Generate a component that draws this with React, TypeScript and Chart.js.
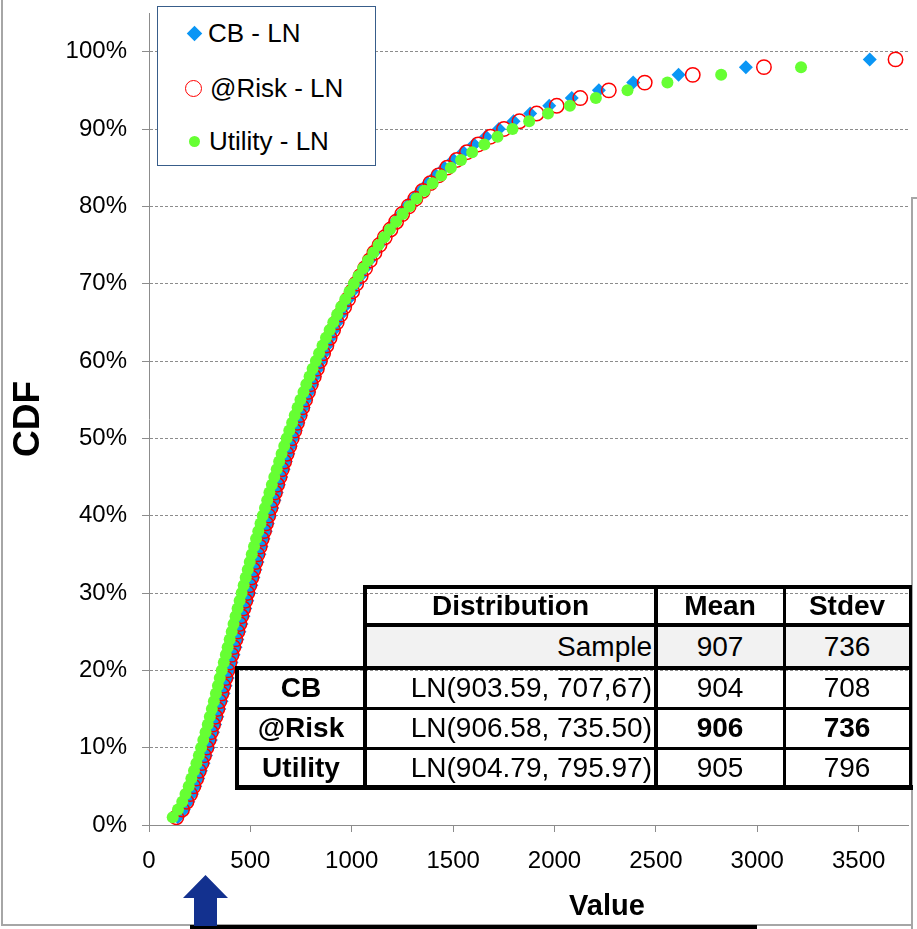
import React, { useEffect, useRef } from 'react';
import { Chart, registerables } from 'chart.js';

Chart.register(...registerables);

// ---------- DATA ----------
const cdfPercent = [
  1, 2, 3, 4, 5, 6, 7, 8, 9, 10, 11, 12, 13, 14, 15, 16, 17, 18, 19, 20,
  21, 22, 23, 24, 25, 26, 27, 28, 29, 30, 31, 32, 33, 34, 35, 36, 37, 38, 39, 40,
  41, 42, 43, 44, 45, 46, 47, 48, 49, 50, 51, 52, 53, 54, 55, 56, 57, 58, 59, 60,
  61, 62, 63, 64, 65, 66, 67, 68, 69, 70, 71, 72, 73, 74, 75, 76, 77, 78, 79, 80,
  81, 82, 83, 84, 85, 86, 87, 88, 89, 90, 91, 92, 93, 94, 95, 96, 97, 98, 99,
];

const cbValues = [
  142, 172, 194, 212, 228, 243, 256, 269, 281, 293, 305, 316, 326, 337, 347, 358, 368, 378, 388, 397,
  407, 417, 427, 436, 446, 456, 466, 475, 485, 495, 505, 515, 525, 535, 545, 555, 565, 576, 586, 597,
  608, 619, 630, 641, 652, 664, 675, 687, 699, 711, 724, 737, 749, 763, 776, 790, 804, 818, 833, 848,
  863, 879, 895, 912, 929, 946, 964, 983, 1003, 1022, 1043, 1065, 1087, 1110, 1134, 1160, 1186, 1214, 1243, 1273,
  1306, 1340, 1376, 1415, 1457, 1502, 1550, 1603, 1662, 1726, 1798, 1880, 1974, 2085, 2219, 2388, 2612, 2944, 3555,
];

const riskValues = [
  135, 163, 185, 203, 219, 233, 246, 259, 271, 283, 294, 305, 316, 327, 337, 347, 357, 367, 377, 387,
  397, 407, 416, 426, 436, 446, 455, 465, 475, 485, 495, 505, 515, 525, 535, 546, 556, 567, 577, 588,
  599, 610, 621, 632, 644, 655, 667, 679, 692, 704, 717, 730, 743, 756, 770, 784, 798, 813, 828, 843,
  859, 875, 891, 908, 926, 944, 963, 982, 1002, 1022, 1044, 1066, 1089, 1112, 1137, 1163, 1191, 1219, 1249, 1281,
  1314, 1350, 1388, 1428, 1471, 1518, 1568, 1624, 1684, 1751, 1827, 1912, 2011, 2127, 2268, 2445, 2682, 3033, 3682,
];

const utilityValues = [
  117, 143, 164, 180, 196, 209, 222, 234, 246, 257, 268, 279, 290, 300, 310, 320, 330, 340, 349, 359,
  369, 379, 388, 398, 408, 417, 427, 437, 447, 457, 467, 477, 487, 497, 507, 518, 528, 539, 550, 561,
  572, 583, 594, 606, 618, 630, 642, 654, 667, 679, 692, 706, 719, 733, 747, 762, 776, 792, 807, 823,
  839, 856, 873, 891, 909, 928, 948, 968, 989, 1010, 1033, 1056, 1080, 1106, 1132, 1160, 1188, 1219, 1251, 1285,
  1320, 1359, 1399, 1442, 1489, 1539, 1594, 1654, 1719, 1793, 1875, 1968, 2076, 2204, 2360, 2557, 2822, 3216, 3953,
];

const seriesNames = ['CB - LN', '@Risk - LN', 'Utility - LN'];
const xTickValues = [0, 500, 1000, 1500, 2000, 2500, 3000, 3500];
const yTickValues = [0, 10, 20, 30, 40, 50, 60, 70, 80, 90, 100];

const tableHeader = ['', 'Distribution', 'Mean', 'Stdev'];
const tableRowLabels = ['', 'CB', '@Risk', 'Utility'];
const tableDistributions = ['Sample', 'LN(903.59, 707,67)', 'LN(906.58, 735.50)', 'LN(904.79, 795.97)'];
const tableMeans = ['907', '904', '906', '905'];
const tableStdevs = ['736', '708', '736', '796'];

// ---------- STYLE ----------
const FONT = "'Liberation Sans', Arial, Helvetica, sans-serif";
const BLUE = '#0A96F5';
const RED = '#FF0000';
const GREEN = '#66FF33';
const GRID = '#8C8C8C';

const toPoints = (vals: number[]) => vals.map((v, i) => ({ x: v, y: cdfPercent[i] }));

const colX = [237, 365, 656, 784, 910];
const rowY = [587, 625, 668, 708, 748, 787];

function HLine({ x1, x2, y, w }: { x1: number; x2: number; y: number; w: number }) {
  return <div style={{ position: 'absolute', left: x1 - w / 2, top: y - w / 2, width: x2 - x1 + w, height: w, background: '#000' }} />;
}
function VLine({ y1, y2, x, w }: { y1: number; y2: number; x: number; w: number }) {
  return <div style={{ position: 'absolute', left: x - w / 2, top: y1 - w / 2, width: w, height: y2 - y1 + w, background: '#000' }} />;
}

function Cell({ r, c, text, bold, align, bg }: { r: number; c: number; text: string; bold?: boolean; align?: string; bg?: string }) {
  return (
    <div
      style={{
        position: 'absolute',
        left: colX[c],
        top: rowY[r],
        width: colX[c + 1] - colX[c],
        height: rowY[r + 1] - rowY[r],
        display: 'flex',
        alignItems: 'center',
        justifyContent: align === 'right' ? 'flex-end' : 'center',
        paddingRight: align === 'right' ? 4 : 0,
        boxSizing: 'border-box',
        background: bg || 'transparent',
        fontFamily: FONT,
        fontSize: 28,
        fontWeight: bold ? 'bold' : 'normal',
        color: '#000',
        whiteSpace: 'nowrap',
      }}
    >
      {text}
    </div>
  );
}

const zeroPadding = (s: any) => {
  s.paddingTop = 0;
  s.paddingBottom = 0;
  s.paddingLeft = 0;
  s.paddingRight = 0;
};

export default function App() {
  const canvasRef = useRef<HTMLCanvasElement | null>(null);

  useEffect(() => {
    const canvas = canvasRef.current;
    if (!canvas) return;
    Chart.defaults.font.family = FONT;
    const chart = new Chart(canvas, {
      type: 'scatter',
      data: {
        datasets: [
          {
            label: seriesNames[0],
            data: toPoints(cbValues),
            pointStyle: 'rectRot',
            pointRadius: 7,
            backgroundColor: BLUE,
            borderColor: BLUE,
            borderWidth: 0,
            order: 3,
          },
          {
            label: seriesNames[1],
            data: toPoints(riskValues),
            pointStyle: 'circle',
            pointRadius: 7.2,
            backgroundColor: 'rgba(0,0,0,0)',
            borderColor: RED,
            borderWidth: 1.5,
            order: 2,
          },
          {
            label: seriesNames[2],
            data: toPoints(utilityValues),
            pointStyle: 'circle',
            pointRadius: 6,
            backgroundColor: GREEN,
            borderColor: GREEN,
            borderWidth: 0,
            order: 1,
          },
        ],
      },
      options: {
        animation: false,
        responsive: false,
        maintainAspectRatio: false,
        devicePixelRatio: 1,
        layout: { padding: { left: 0, right: 0, top: 13, bottom: 0 } },
        plugins: { legend: { display: false }, tooltip: { enabled: false }, title: { display: false } },
        scales: {
          x: {
            type: 'linear',
            min: 0,
            max: 3745,
            afterBuildTicks: (s: any) => {
              s.ticks = xTickValues.map((v) => ({ value: v }));
            },
            afterFit: (s: any) => {
              s.height = 104;
              zeroPadding(s);
            },
            grid: { display: true, drawOnChartArea: false, drawTicks: true, tickLength: 7, color: GRID, tickColor: GRID },
            border: { display: true, color: GRID, width: 1 },
            ticks: {
              font: { size: 24, family: FONT },
              color: '#000',
              padding: 15,
              maxRotation: 0,
              autoSkip: false,
              callback: (v: any) => String(v),
            },
          },
          y: {
            type: 'linear',
            min: 0,
            max: 105,
            afterBuildTicks: (s: any) => {
              s.ticks = yTickValues.map((v) => ({ value: v }));
            },
            afterFit: (s: any) => {
              s.width = 149;
              zeroPadding(s);
            },
            grid: { display: true, drawOnChartArea: true, drawTicks: true, tickLength: 7, color: GRID, tickColor: GRID },
            border: { display: true, color: GRID, width: 1, dash: [3, 2] },
            ticks: {
              font: { size: 24, family: FONT },
              color: '#000',
              padding: 15,
              autoSkip: false,
              callback: (v: any) => v + '%',
            },
            title: {
              display: true,
              text: 'CDF',
              color: '#000',
              font: { size: 37, weight: 'bold', family: FONT },
              padding: { top: 7, bottom: 0 },
            },
          },
        },
      },
    } as any);
    return () => chart.destroy();
  }, []);

  const legendRow = (marker: React.ReactNode, text: string, cy: number, tx: number) => (
    <div style={{ position: 'absolute', left: 0, top: cy - 20, width: 219, height: 40 }}>
      {marker}
      <div
        style={{
          position: 'absolute',
          left: tx,
          top: 0,
          height: 40,
          lineHeight: '40px',
          fontFamily: FONT,
          fontSize: 26,
          color: '#000',
          whiteSpace: 'nowrap',
        }}
      >
        {text}
      </div>
    </div>
  );

  return (
    <div style={{ position: 'fixed', left: 0, top: 0, width: 917, height: 929, overflow: 'hidden', background: '#fff' }}>
      <canvas ref={canvasRef} width={917} height={929} style={{ position: 'absolute', left: 0, top: 0, width: 917, height: 929 }} />

      {/* frame lines */}
      <div style={{ position: 'absolute', left: 1, top: 0, width: 2, height: 926, background: '#A6A6A6' }} />
      <div style={{ position: 'absolute', left: 1, top: 924, width: 916, height: 2, background: '#A6A6A6' }} />
      <div style={{ position: 'absolute', left: 911, top: 197, width: 20, height: 740, background: '#fff', borderLeft: '2px solid #A6A6A6', borderTop: '2px solid #A6A6A6' }} />

      {/* legend */}
      <div style={{ position: 'absolute', left: 157, top: 6, width: 217, height: 158, border: '1.5px solid #385D8A', background: '#fff' }}>
        {legendRow(
          <div style={{ position: 'absolute', left: 30.5, top: 14.5, width: 11, height: 11, background: BLUE, transform: 'rotate(45deg)' }} />,
          seriesNames[0], 26, 50,
        )}
        {legendRow(
          <div style={{ position: 'absolute', left: 27, top: 12, width: 17, height: 17, borderRadius: '50%', border: '1.5px solid ' + RED, boxSizing: 'border-box' }} />,
          seriesNames[1], 81, 52,
        )}
        {legendRow(
          <div style={{ position: 'absolute', left: 30.5, top: 14.5, width: 11, height: 11, borderRadius: '50%', background: GREEN }} />,
          seriesNames[2], 134, 51,
        )}
      </div>

      {/* table */}
      <div style={{ position: 'absolute', left: 0, top: 0, width: 917, height: 929, pointerEvents: 'none' }}>
        <Cell r={0} c={1} text={tableHeader[1]} bold />
        <Cell r={0} c={2} text={tableHeader[2]} bold />
        <Cell r={0} c={3} text={tableHeader[3]} bold />
        {[0, 1, 2, 3].map((i) => (
          <React.Fragment key={i}>
            {i > 0 && <Cell r={i + 1} c={0} text={tableRowLabels[i]} bold />}
            <Cell r={i + 1} c={1} text={tableDistributions[i]} align="right" bg={i === 0 ? '#F2F2F2' : undefined} />
            <Cell r={i + 1} c={2} text={tableMeans[i]} bold={i === 2} bg={i === 0 ? '#F2F2F2' : undefined} />
            <Cell r={i + 1} c={3} text={tableStdevs[i]} bold={i === 2} bg={i === 0 ? '#F2F2F2' : undefined} />
          </React.Fragment>
        ))}
        <HLine x1={colX[1]} x2={colX[4]} y={rowY[0]} w={4} />
        <HLine x1={colX[1]} x2={colX[4]} y={rowY[1]} w={4} />
        <HLine x1={colX[0]} x2={colX[4]} y={rowY[2]} w={4} />
        <HLine x1={colX[0]} x2={colX[4]} y={rowY[3]} w={3} />
        <HLine x1={colX[0]} x2={colX[4]} y={rowY[4]} w={3} />
        <HLine x1={colX[0]} x2={colX[4]} y={rowY[5]} w={5} />
        <VLine x={colX[0]} y1={rowY[2]} y2={rowY[5]} w={4} />
        <VLine x={colX[1]} y1={rowY[0]} y2={rowY[5]} w={4} />
        <VLine x={colX[2]} y1={rowY[0]} y2={rowY[5]} w={4} />
        <VLine x={colX[3]} y1={rowY[0]} y2={rowY[5]} w={3} />
        <VLine x={colX[4]} y1={rowY[0]} y2={rowY[5]} w={3} />
      </div>

      {/* x axis title */}
      <div
        style={{
          position: 'absolute',
          left: 507,
          top: 888,
          width: 200,
          height: 34,
          lineHeight: '34px',
          textAlign: 'center',
          fontFamily: FONT,
          fontSize: 29,
          fontWeight: 'bold',
          color: '#000',
        }}
      >
        Value
      </div>

      {/* bottom table edge and arrow */}
      <div style={{ position: 'absolute', left: 190, top: 925, width: 567, height: 4, background: '#000' }} />
      <svg style={{ position: 'absolute', left: 0, top: 0 }} width={917} height={929}>
        <polygon points="205.5,875 228,898 217,898 217,926 194,926 194,898 183,898" fill="#13318F" />
      </svg>
    </div>
  );
}
